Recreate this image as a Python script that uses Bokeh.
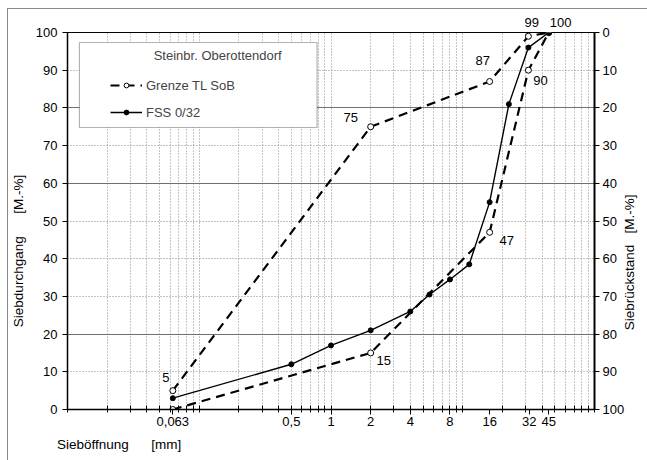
import math
from bokeh.plotting import figure
from bokeh.models import (FixedTicker, LinearAxis, Range1d, Legend, LegendItem,
                          Label, BoxAnnotation, Title, Grid)
from bokeh.embed import file_html
from bokeh.resources import INLINE

# ---------------- data ----------------
sieve_fss = [0.063, 0.5, 1, 2, 4, 5.6, 8, 11.2, 16, 22.4, 31.5, 45]
pass_fss = [3, 12, 17, 21, 26, 30.5, 34.5, 38.5, 55, 81, 96, 100]

sieve_lim = [0.063, 2, 16, 31.5, 45]
upper_lim = [5, 75, 87, 99, 100]
lower_lim = [0, 15, 47, 90, 100]

x_ticks = [0.063, 0.5, 1, 2, 4, 8, 16, 32, 45]
x_tick_labels = ["0,063", "0,5", "1", "2", "4", "8", "16", "32", "45"]
x_grid = [m * 10.0 ** k for k in (-2, -1, 0, 1) for m in range(1, 10)] + [100]
y_ticks = [0, 10, 20, 30, 40, 50, 60, 70, 80, 90, 100]
y_solid_grid = [20, 60, 80]

title_text = "Steinbr. Oberottendorf"
name_lim = "Grenze TL SoB"
name_fss = "FSS 0/32"
y_label = "Siebdurchgang"
y2_label = "Siebrückstand"
y_unit = "[M.-%]"
x_label = "Sieböffnung"
x_unit = "[mm]"

NB = "\u00a0"

# ---------------- layout helpers (picture px -> data) ----------------
W, H = 647, 460
FL, FR, FT, FB = 67, 597, 32, 409
def dx(px):
    return 10 ** (-2 + 4 * (px - FL) / (FR - FL))
def dy(py):
    return 100 * (FB - py) / (FB - FT)

FONT = "Liberation Sans"

p = figure(width=W, height=H, x_axis_type="log",
           x_range=Range1d(0.01, 100), y_range=Range1d(0, 100),
           min_border_left=FL, min_border_right=W - FR, min_border_top=FT,
           min_border_bottom=H - FB, output_backend="svg", toolbar_location=None)
p.background_fill_color = "white"
p.border_fill_alpha = 0
p.styles = {"background": "linear-gradient(#8a8a8a,#8a8a8a) 7px 8px / 1px 100% no-repeat, "
                          "linear-gradient(#8a8a8a,#8a8a8a) 7px 8px / 100% 1px no-repeat, white"}
p.outline_line_color = "black"
p.outline_line_width = 1

# grids
p.xgrid.ticker = FixedTicker(ticks=x_grid)
p.ygrid.ticker = FixedTicker(ticks=y_ticks)
for g in (p.xgrid[0], p.ygrid[0]):
    g.grid_line_color = "#888888"
    g.grid_line_dash = "1 2"
    g.grid_line_width = 1
p.add_layout(Grid(dimension=1, ticker=FixedTicker(ticks=y_solid_grid),
                  grid_line_color="#707070", grid_line_width=1))

tick_style = dict(major_label_text_font=FONT, major_label_text_font_size="13px",
                  major_label_text_color="black")
lab_font = dict(axis_label_text_font=FONT, axis_label_text_font_size="13.5px",
                axis_label_text_font_style="normal", axis_label_text_color="black")
title_axis_style = dict(major_label_text_font=FONT, major_label_text_font_size="13.5px",
                        major_label_text_color="black", axis_line_alpha=0,
                        major_tick_in=0, major_tick_out=0, minor_tick_in=0,
                        minor_tick_out=0)

# bottom axis
xa = p.xaxis[0]
xa.ticker = FixedTicker(ticks=x_ticks, minor_ticks=x_grid)
xa.major_label_overrides = dict(zip(x_ticks, x_tick_labels))
xa.major_tick_in = 0
xa.major_tick_out = 5
xa.minor_tick_in = 4
xa.minor_tick_out = 3
xa.major_label_standoff = 2
xa.axis_line_width = 1.5
xa.update(**tick_style)

# left axis
ya = p.yaxis[0]
ya.ticker = FixedTicker(ticks=y_ticks)
ya.major_tick_in = 0
ya.major_tick_out = 5
ya.minor_tick_out = 0
ya.major_label_standoff = 5
ya.axis_line_width = 1.5
ya.update(**tick_style)
ya.update(**lab_font)
ya.axis_label = y_label + NB * 6 + y_unit + NB * 16
ya.axis_label_standoff = 7

# right axis (Siebrückstand)
p.extra_y_ranges = {"rest": Range1d(100, 0)}
ra = LinearAxis(y_range_name="rest", ticker=FixedTicker(ticks=y_ticks))
ra.major_tick_in = 0
ra.major_tick_out = 5
ra.minor_tick_out = 0
ra.major_label_standoff = 3
ra.axis_line_width = 2
ra.update(**tick_style)
p.add_layout(ra, "right")

# right axis title: a label-only axis, text starting low and reading upwards
y2_pos = round(dy(330))
ra_title = LinearAxis(ticker=FixedTicker(ticks=[y2_pos]),
                      major_label_overrides={y2_pos: y2_label + NB * 3 + y_unit},
                      major_label_orientation=math.pi / 2, major_label_standoff=2,
                      **title_axis_style)
p.add_layout(ra_title, "right")

# x axis title: a label-only axis below the x axis
x_pos = dx(119)
xa_title = LinearAxis(ticker=FixedTicker(ticks=[x_pos]),
                      major_label_overrides={x_pos: x_label + NB * 6 + x_unit},
                      major_label_standoff=8, **title_axis_style)
p.add_layout(xa_title, "below")

# ---------------- curves ----------------
up_line = p.line(sieve_lim, upper_lim, line_color="black", line_width=2.2, line_dash="9 6")
lo_line = p.line(sieve_lim, lower_lim, line_color="black", line_width=2.2, line_dash="9 6")
up_pts = p.scatter(sieve_lim, upper_lim, marker="circle", size=6, fill_color="white",
                   line_color="black", line_width=1)
lo_pts = p.scatter(sieve_lim, lower_lim, marker="circle", size=6, fill_color="white",
                   line_color="black", line_width=1)
fss_line = p.line(sieve_fss, pass_fss, line_color="black", line_width=1.4)
fss_pts = p.scatter(sieve_fss, pass_fss, marker="circle", size=5, fill_color="black",
                    line_color="black")

# ---------------- value labels ----------------
lab_style = dict(text_font=FONT, text_font_size="13px", text_color="black",
                 text_align="center", text_baseline="middle")
value_labels = [
    (sieve_lim[0], upper_lim[0], -7, 13),
    (sieve_lim[1], upper_lim[1], -20, 9),
    (sieve_lim[2], upper_lim[2], -7, 21),
    (sieve_lim[3], lower_lim[3], 12, -10),
    (sieve_lim[2], lower_lim[2], 17, -8),
    (sieve_lim[1], lower_lim[1], 13, -8),
]
for x, y, ox, oy in value_labels:
    p.add_layout(Label(x=x, y=y, text=f"{y:g}", x_offset=ox, y_offset=oy, **lab_style))

# labels above the frame (99 at 31.5 mm, 100 at 45 mm)
p.add_layout(Title(text=f"{upper_lim[3]:g}" + NB * 3 + f"{pass_fss[-1]:g}", align="left",
                   offset=457, standoff=5, text_font=FONT, text_font_size="13px",
                   text_font_style="normal", text_color="black"), "above")

# ---------------- legend ----------------
box = BoxAnnotation(left=dx(79), right=dx(318), top=dy(42), bottom=dy(127),
                    fill_color="white", fill_alpha=1, line_color="black", line_width=1.2)
p.add_layout(box)
legend = Legend(items=[LegendItem(label=name_lim, renderers=[up_line, up_pts]),
                       LegendItem(label=name_fss, renderers=[fss_line, fss_pts])],
                location="top_left", margin=38, padding=5, glyph_width=32,
                glyph_height=12, label_height=20, label_standoff=4, spacing=7,
                border_line_alpha=0, background_fill_alpha=0,
                label_text_font=FONT, label_text_font_size="13px")
p.add_layout(legend)
p.add_layout(Label(x=dx(218), y=dy(55), text=title_text, text_font=FONT,
                   text_font_size="13px", text_align="center", text_baseline="middle"))

open("out.html", "w").write(file_html(p, INLINE))
